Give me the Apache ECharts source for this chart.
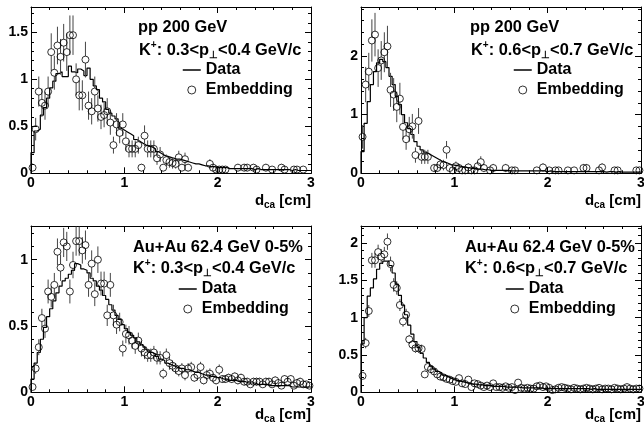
<!DOCTYPE html>
<html><head><meta charset="utf-8">
<script src="https://cdn.jsdelivr.net/npm/echarts@6/dist/echarts.min.js"></script>
<style>html,body{margin:0;padding:0;background:#fff}#c{width:644px;height:427px}</style>
</head><body><div id="c"></div><script>
// ---------------- data ----------------
const dcaRange = [0, 3];
const xTicks = [0, 1, 2, 3];
const systems = ['pp 200 GeV', 'pp 200 GeV', 'Au+Au 62.4 GeV 0-5%', 'Au+Au 62.4 GeV 0-5%'];
const ptLow = ['0.3', '0.6', '0.3', '0.6'];
const ptHigh = ['0.4', '0.7', '0.4', '0.7'];
const yMax = [1.77, 2.83, 1.254, 2.23];
const yMajor = [0.5, 1, 0.5, 0.5];
const yMinor = [0.1, 0.2, 0.1, 0.1];

const data1 = [0.22,0.45,0.47,0.62,0.70,0.80,0.91,0.98,1.06,1.08,
 1.03,1.03,1.14,1.08,1.07,1.11,1.09,1.04,1.12,1.00,
 0.93,0.89,0.80,0.76,0.68,0.64,0.61,0.58,0.48,0.46,
 0.44,0.42,0.40,0.36,0.34,0.32,0.30,0.29,0.28,0.26,
 0.23,0.21,0.19,0.18,0.17,0.16,0.15,0.15,0.14,0.13,
 0.12,0.11,0.10,0.10,0.09,0.08,0.08,0.07,0.07,0.06,
 0.06,0.06,0.06,0.05,0.05,0.05,0.05,0.05,0.05,0.05,
 0.05,0.04,0.05,0.04,0.04,0.04,0.04,0.04,0.04,0.04,
 0.04,0.04,0.04,0.03,0.04,0.03,0.03,0.03,0.03,0.03];
const emb1 = [0.06,0.47,0.87,0.75,0.72,0.87,1.29,1.07,1.36,1.24,
 1.39,1.29,1.47,1.47,1.00,0.83,0.83,1.21,0.72,0.66,
 0.87,0.69,0.60,0.62,0.66,0.54,0.30,0.52,0.43,0.52,
 0.34,0.26,0.26,0.26,0.30,0.06,0.40,0.26,0.26,0.26,
 0.16,0.20,0.06,0.14,0.12,0.11,0.10,0.17,0.06,0.15,
 0.06,null,null,null,null,null,null,0.10,0.06,0.04,
 0.04,0.04,0.04,null,null,null,0.06,null,0.06,0.06,
 null,0.06,0.04,null,null,0.06,null,0.04,null,null,
 0.06,0.04,null,null,0.04,0.04,null,0.04,null,null];
const emb1Err = [0.04,0.12,0.16,0.15,0.15,0.16,0.20,0.18,0.20,0.19,
 0.20,0.20,0.21,0.21,0.17,0.16,0.16,0.19,0.15,0.14,
 0.16,0.14,0.13,0.13,0.14,0.13,0.09,0.12,0.11,0.12,
 0.10,0.09,0.09,0.09,0.09,0.04,0.11,0.09,0.09,0.09,
 0.07,0.08,0.04,0.06,0.06,0.06,0.05,0.07,0.04,0.07,
 0.04,null,null,null,null,null,null,0.05,0.04,0.03,
 0.03,0.03,0.03,null,null,null,0.04,null,0.04,0.04,
 null,0.04,0.03,null,null,0.04,null,0.03,null,null,
 0.04,0.03,null,null,0.03,0.03,null,0.03,null,null];

const data2 = [0.37,0.85,1.22,1.51,1.73,1.88,1.94,1.90,1.80,1.65,
 1.51,1.31,1.17,1.00,0.86,0.76,0.66,0.54,0.46,0.40,
 0.36,0.33,0.30,0.27,0.24,0.21,0.19,0.17,0.15,0.14,
 0.13,0.12,0.11,0.10,0.09,0.08,0.08,0.07,0.07,0.06,
 0.06,0.05,0.05,0.05,0.05,0.05,0.05,0.04,0.04,0.04,
 0.04,0.04,0.04,0.04,0.04,0.04,0.04,0.04,0.04,0.03,
 0.04,0.03,0.03,0.03,0.03,0.03,0.03,0.03,0.03,0.03,
 0.03,0.03,0.03,0.03,0.03,0.03,0.03,0.03,0.02,0.03,
 0.03,0.02,0.03,0.02,0.02,0.02,0.02,0.02,0.02,0.02];
const emb2 = [0.62,1.51,1.73,2.26,2.36,1.79,1.92,2.06,2.16,1.42,
 1.34,1.13,1.27,0.79,0.58,0.75,0.80,0.31,0.89,0.28,
 0.28,0.28,null,0.09,0.09,0.15,0.14,0.40,0.09,0.05,
 0.12,0.09,0.05,0.05,0.10,0.05,0.05,0.12,0.19,0.09,
 null,0.05,0.09,null,null,null,0.09,null,0.05,0.05,
 null,null,null,null,null,null,0.05,null,0.10,null,
 0.05,null,0.05,0.05,null,null,0.05,null,0.05,null,
 null,0.09,0.09,null,null,null,0.05,0.10,null,null,
 null,0.05,0.05,null,null,null,null,null,0.05,0.05];
const emb2Err = [0.20,0.30,0.32,0.36,0.37,0.32,0.33,0.34,0.35,0.29,
 0.28,0.26,0.27,0.21,0.18,0.21,0.21,0.13,0.22,0.12,
 0.12,0.12,null,0.07,0.07,0.09,0.09,0.15,0.07,0.05,
 0.08,0.07,0.05,0.05,0.07,0.05,0.05,0.08,0.10,0.07,
 null,0.05,0.07,null,null,null,0.07,null,0.05,0.05,
 null,null,null,null,null,null,0.05,null,0.07,null,
 0.05,null,0.05,0.05,null,null,0.05,null,0.05,null,
 null,0.07,0.07,null,null,null,0.05,0.07,null,null,
 null,0.05,0.05,null,null,null,null,null,0.05,0.05];

const data3 = [0.10,0.22,0.30,0.40,0.49,0.57,0.63,0.69,0.75,0.80,
 0.84,0.86,0.89,0.92,0.97,0.96,0.93,0.92,0.90,0.86,
 0.84,0.80,0.77,0.73,0.70,0.66,0.62,0.58,0.55,0.51,
 0.48,0.45,0.43,0.41,0.38,0.36,0.34,0.32,0.30,0.29,
 0.27,0.25,0.24,0.22,0.21,0.20,0.19,0.18,0.18,0.17,
 0.17,0.16,0.15,0.15,0.14,0.13,0.13,0.12,0.12,0.11,
 0.11,0.10,0.10,0.09,0.09,0.09,0.08,0.08,0.08,0.07,
 0.07,0.07,0.06,0.06,0.06,0.06,0.05,0.05,0.05,0.05,
 0.05,0.05,0.05,0.04,0.04,0.04,0.04,0.04,0.04,0.04];
const emb3 = [0.04,0.18,0.34,0.56,0.48,0.76,0.72,0.81,1.06,0.94,
 1.13,1.10,0.76,0.96,1.14,1.14,1.07,1.11,0.81,0.97,
 0.74,1.00,0.82,0.82,0.58,0.81,0.58,0.51,0.53,0.33,
 0.44,0.43,0.39,0.35,0.39,0.33,0.30,0.28,0.28,0.30,
 0.26,0.26,0.14,0.28,0.22,0.20,0.18,0.16,0.18,0.13,
 0.18,0.19,0.11,0.13,0.19,0.09,0.13,0.14,0.11,0.09,
 0.17,0.10,0.10,0.11,0.10,0.12,0.09,0.11,0.08,0.08,
 0.06,0.08,0.08,0.08,0.06,0.08,0.08,0.06,0.09,0.07,
 0.05,0.10,0.08,0.10,0.05,0.07,0.08,0.06,0.06,0.05];
const emb3Err = [0.02,0.04,0.06,0.07,0.07,0.09,0.08,0.09,0.10,0.10,
 0.11,0.11,0.09,0.10,0.11,0.11,0.10,0.11,0.09,0.10,
 0.09,0.10,0.09,0.09,0.08,0.09,0.08,0.07,0.07,0.06,
 0.07,0.07,0.06,0.06,0.06,0.06,0.05,0.05,0.05,0.05,
 0.05,0.05,0.04,0.05,0.05,0.04,0.04,0.04,0.04,0.04,
 0.04,0.04,0.03,0.04,0.04,0.03,0.04,0.04,0.03,0.03,
 0.04,0.03,0.03,0.03,0.03,0.03,0.03,0.03,0.03,0.03,
 0.02,0.03,0.03,0.03,0.02,0.03,0.03,0.02,0.03,0.03,
 0.02,0.03,0.03,0.03,0.02,0.03,0.03,0.02,0.02,0.02];

const data4 = [0.65,1.00,1.29,1.40,1.52,1.65,1.73,1.76,1.76,1.70,
 1.60,1.45,1.30,1.17,1.04,0.90,0.78,0.68,0.60,0.52,
 0.46,0.40,0.35,0.31,0.28,0.26,0.23,0.21,0.19,0.17,
 0.16,0.15,0.14,0.13,0.12,0.11,0.11,0.10,0.10,0.09,
 0.09,0.09,0.08,0.08,0.08,0.08,0.07,0.07,0.07,0.07,
 0.07,0.06,0.06,0.06,0.06,0.06,0.06,0.06,0.05,0.05,
 0.05,0.05,0.05,0.05,0.05,0.05,0.05,0.05,0.05,0.05,
 0.05,0.05,0.05,0.04,0.05,0.04,0.04,0.04,0.04,0.04,
 0.04,0.04,0.04,0.04,0.04,0.04,0.04,0.04,0.04,0.04];
const emb4 = [0.22,0.66,1.09,1.77,1.77,1.88,1.82,1.85,2.02,1.72,
 1.44,1.40,1.17,0.95,1.04,0.71,0.64,0.59,0.59,0.58,
 0.24,0.34,0.31,0.28,0.24,0.21,0.20,0.18,0.17,0.15,
 0.14,0.19,0.12,0.11,0.17,0.07,0.12,0.11,0.09,0.07,
 0.09,0.07,0.12,0.07,0.07,0.06,0.08,0.06,0.07,0.03,
 0.13,0.06,0.05,0.06,0.05,0.05,0.08,0.09,0.07,0.08,
 0.06,0.03,0.04,0.06,0.07,0.06,0.05,0.04,0.06,0.05,
 0.04,0.05,0.06,0.05,0.04,0.05,0.06,0.04,0.05,0.05,
 0.04,0.06,0.05,0.04,0.05,0.07,0.05,0.04,0.05,0.05];
const emb4Err = [0.04,0.07,0.08,0.10,0.10,0.10,0.10,0.10,0.11,0.10,
 0.09,0.09,0.08,0.07,0.08,0.06,0.06,0.06,0.06,0.06,
 0.04,0.04,0.04,0.04,0.04,0.03,0.03,0.03,0.03,0.03,
 0.03,0.03,0.03,0.03,0.03,0.02,0.03,0.03,0.02,0.02,
 0.02,0.02,0.03,0.02,0.02,0.02,0.02,0.02,0.02,0.02,
 0.03,0.02,0.02,0.02,0.02,0.02,0.02,0.02,0.02,0.02,
 0.02,0.02,0.02,0.02,0.02,0.02,0.02,0.02,0.02,0.02,
 0.02,0.02,0.02,0.02,0.02,0.02,0.02,0.02,0.02,0.02,
 0.02,0.02,0.02,0.02,0.02,0.02,0.02,0.02,0.02,0.02];

// ---------------- layout & style ----------------
const FONT = '"Liberation Sans", Arial, Helvetica, sans-serif';
const TITLE_SIZE = 16.4;
const PW = 280, PH = 166.3;
const layout = [
  {left: 31,  top: 7,   sysX: 138, sysY: 27,  ktX: 139, ktY: 50,  legL: 182, legT: 62,  nameOff: 28},
  {left: 361, top: 7,   sysX: 470, sysY: 27,  ktX: 471, ktY: 50,  legL: 513, legT: 62,  nameOff: 28},
  {left: 31,  top: 226, sysX: 133, sysY: 247, ktX: 133, ktY: 268, legL: 178, legT: 281, nameOff: 23},
  {left: 361, top: 226, sysX: 465, sysY: 247, ktX: 465, ktY: 268, legL: 505, legT: 281, nameOff: 23}
];
const panels = [
  {data: data1, emb: emb1, err: emb1Err},
  {data: data2, emb: emb2, err: emb2Err},
  {data: data3, emb: emb3, err: emb3Err},
  {data: data4, emb: emb4, err: emb4Err}
];

function stepPoints(vals) {
  const w = (dcaRange[1] - dcaRange[0]) / vals.length;
  const pts = [[dcaRange[0], 0]];
  vals.forEach((v, i) => {
    pts.push([dcaRange[0] + i * w, v]);
    pts.push([dcaRange[0] + (i + 1) * w, v]);
  });
  return pts;
}
function embPoints(vals, errs) {
  const w = (dcaRange[1] - dcaRange[0]) / vals.length;
  const out = [];
  vals.forEach((v, i) => { if (v != null) out.push([dcaRange[0] + (i + 0.5) * w, v, errs[i]]); });
  return out;
}

const labelStyle = {color: '#000', fontSize: 14, fontWeight: 'bold', fontFamily: FONT};
const lineStyle = {color: '#000', width: 1};
const grids = [], xAxes = [], yAxes = [], series = [], legends = [], graphics = [];

layout.forEach((L, p) => {
  grids.push({left: L.left, top: L.top, width: PW, height: PH, outerBoundsMode: 'none', containLabel: false});
  ['bottom', 'top'].forEach(pos => {
    const lab = pos === 'bottom';
    xAxes.push({
      type: 'value', gridIndex: p, position: pos, min: dcaRange[0], max: dcaRange[1], interval: xTicks[1] - xTicks[0],
      axisLine: {show: true, onZero: false, lineStyle},
      axisTick: {show: true, inside: true, length: 6, lineStyle},
      minorTick: {show: true, splitNumber: 5, length: 3, lineStyle},
      axisLabel: Object.assign({show: lab, margin: 3}, labelStyle),
      splitLine: {show: false}, minorSplitLine: {show: false},
      name: lab ? 'd{sub|ca} [cm]' : '', nameLocation: 'end', nameGap: 0, nameMoveOverlap: false,
      nameTextStyle: {color: '#000', fontSize: 15, fontWeight: 'bold', fontFamily: FONT, align: 'right',
        verticalAlign: 'middle', lineHeight: 18, padding: [2 * L.nameOff, 0, 0, 0],
        rich: {sub: {fontSize: 10, fontWeight: 'bold', fontFamily: FONT, verticalAlign: 'bottom', lineHeight: 11}}}
    });
  });
  ['left', 'right'].forEach(pos => {
    [yMajor[p], yMinor[p]].forEach((step, k) => {
      yAxes.push({
        type: 'value', gridIndex: p, position: pos, min: 0, max: yMax[p], interval: step,
        axisLine: {show: k === 0, onZero: false, lineStyle},
        axisTick: {show: true, inside: true, length: k === 0 ? 6 : 3, lineStyle},
        axisLabel: Object.assign({show: pos === 'left' && k === 0, margin: 3, showMaxLabel: false}, labelStyle),
        splitLine: {show: false}
      });
    });
  });
  const xi = 2 * p, yi = 4 * p;
  series.push({
    type: 'line', name: 'Data', xAxisIndex: xi, yAxisIndex: yi, data: stepPoints(panels[p].data),
    symbol: 'none', showSymbol: false, lineStyle: {color: '#000', width: 1.2}, itemStyle: {color: '#000'},
    z: 2, silent: true
  });
  series.push({
    type: 'custom', name: 'errors', xAxisIndex: xi, yAxisIndex: yi, data: embPoints(panels[p].emb, panels[p].err),
    dimensions: ['x', 'y', 'err'], encode: {x: 0, y: 1}, z: 3, silent: true,
    renderItem: function (params, api) {
      const x = api.value(0), y = api.value(1), e = api.value(2);
      const c = api.coord([x, y]), hi = api.coord([x, y + e]), lo = api.coord([x, y - e]);
      const cs = params.coordSys, r = 3.5;
      const st = {stroke: '#444', lineWidth: 1};
      const ch = [];
      const y1 = Math.max(hi[1], cs.y), y2 = c[1] - r;
      if (y2 > y1) ch.push({type: 'line', shape: {x1: c[0], y1: y1, x2: c[0], y2: y2}, style: st});
      const y3 = c[1] + r, y4 = Math.min(lo[1], cs.y + cs.height);
      if (y4 > y3) ch.push({type: 'line', shape: {x1: c[0], y1: y3, x2: c[0], y2: y4}, style: st});
      return {type: 'group', children: ch};
    }
  });
  series.push({
    type: 'scatter', name: 'Embedding', xAxisIndex: xi, yAxisIndex: yi,
    data: embPoints(panels[p].emb, panels[p].err).map(d => [d[0], d[1]]),
    symbol: 'circle', symbolSize: 7,
    itemStyle: {color: 'rgba(0,0,0,0)', borderColor: '#000', borderWidth: 1}, z: 4, silent: true
  });
  legends.push({
    data: [
      {name: 'Data', itemStyle: {opacity: 0, color: 'rgba(0,0,0,0)', borderWidth: 0}, lineStyle: {width: 1.5, color: '#000'}},
      {name: 'Embedding', itemStyle: {color: 'rgba(0,0,0,0)', borderColor: '#000', borderWidth: 1}}
    ],
    orient: 'vertical', left: L.legL, top: L.legT, padding: 0,
    itemWidth: 18, itemHeight: 8, itemGap: 4, selectedMode: false,
    textStyle: {color: '#000', fontSize: 16, fontWeight: 'bold', fontFamily: FONT, lineHeight: 16}
  });
  const richSS = {
    sup: {fontSize: 10, fontWeight: 'bold', fontFamily: FONT, verticalAlign: 'top', lineHeight: 10},
    sub: {fontSize: 10, fontWeight: 'bold', fontFamily: FONT, verticalAlign: 'bottom', lineHeight: 10}
  };
  graphics.push({type: 'text', x: L.sysX, y: L.sysY, silent: true,
    style: {text: systems[p], fill: '#000', fontSize: TITLE_SIZE, fontWeight: 'bold', fontFamily: FONT, verticalAlign: 'middle'}});
  graphics.push({type: 'text', x: L.ktX, y: L.ktY, silent: true,
    style: {text: 'K{sup|+}: ' + ptLow[p] + '<p{sub|\u22A5}<' + ptHigh[p] + ' GeV/c', fill: '#000', fontSize: TITLE_SIZE,
      fontWeight: 'bold', fontFamily: FONT, verticalAlign: 'middle', lineHeight: 20, rich: richSS}});
});

const chart = echarts.init(document.getElementById('c'), null, {renderer: 'canvas'});
chart.setOption({
  backgroundColor: '#fff', animation: false,
  grid: grids, xAxis: xAxes, yAxis: yAxes, series: series, legend: legends, graphic: graphics,
  tooltip: {show: false}
});
</script></body></html>
